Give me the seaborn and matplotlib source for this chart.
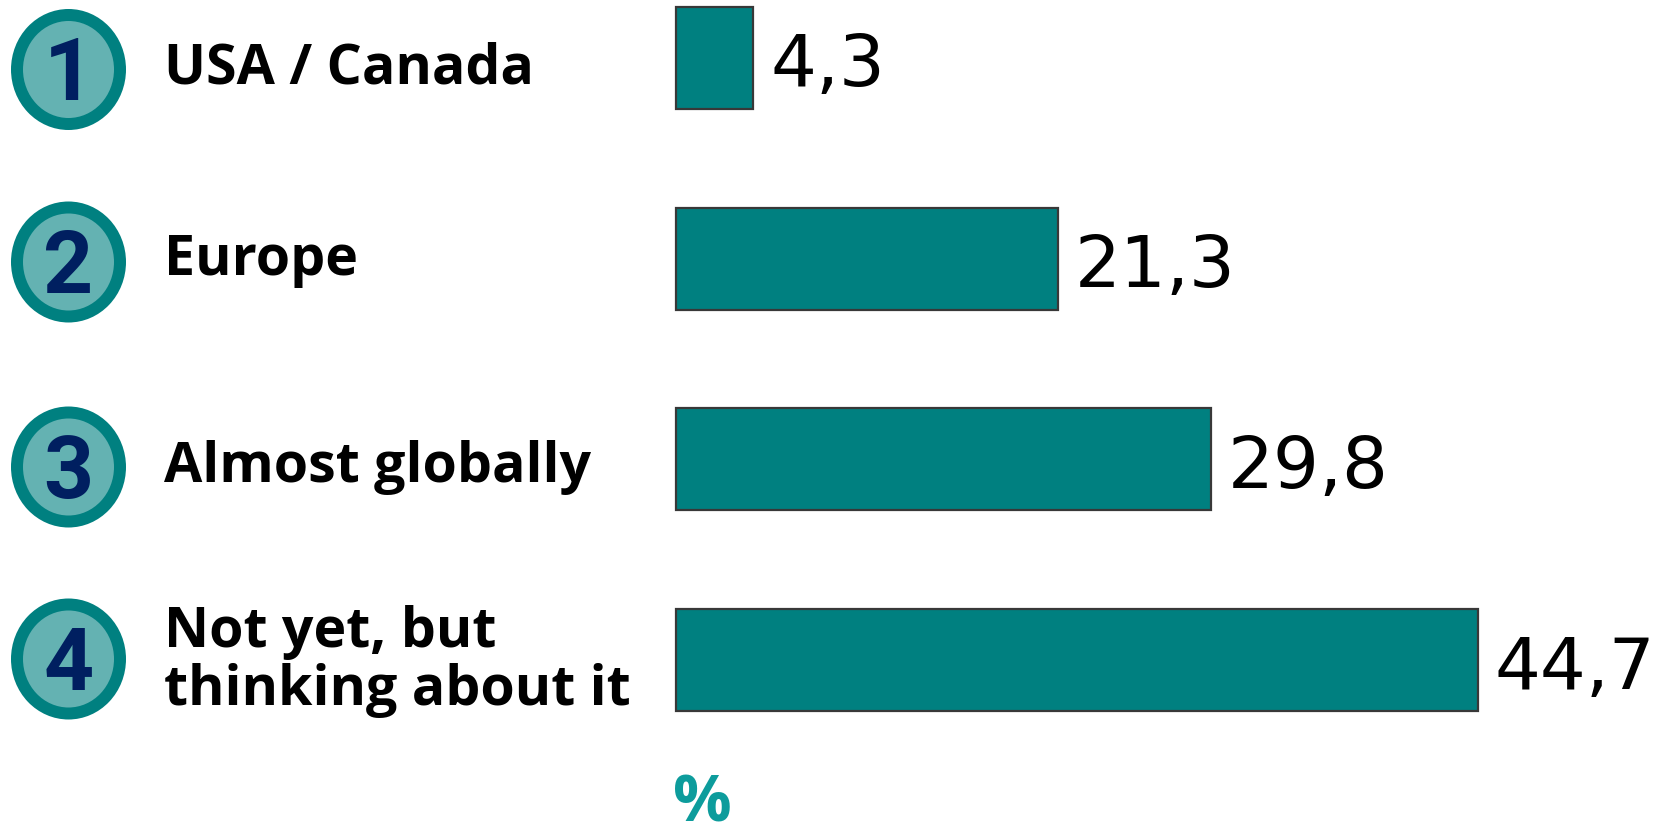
import matplotlib
matplotlib.use("Agg")
import matplotlib.pyplot as plt
from matplotlib.patches import Ellipse
import pandas as pd
import seaborn as sns

categories = ["USA / Canada", "Europe", "Almost globally", "Not yet, but\nthinking about it"]
shares = [4.3, 21.3, 29.8, 44.7]
badges = ["1", "2", "3", "4"]
unit_label = "%"

W, H = 1662, 825
TEAL = "#008080"
PALE_TEAL = "#64b2b2"
NAVY = "#001f60"
UNIT_TEAL = "#0d9c9c"

sns.set_theme(style="white")
fig = plt.figure(figsize=(W / 100, H / 100), dpi=100, facecolor="white")

# Bars fill the whole canvas; limits put zero and the row spacing where they belong
ax = fig.add_axes([0, 0, 1, 1])
df = pd.DataFrame({"category": categories, "share": shares})
sns.barplot(data=df, x="share", y="category", order=categories, orient="h",
            color=TEAL, saturation=1, width=0.508, edgecolor="#383838",
            linewidth=1.6, ax=ax)
px_per_unit = 17.94
px_per_row = 200.7
ax.set_xlim(-676 / px_per_unit, (W - 676) / px_per_unit)
ax.set_ylim((H - 58) / px_per_row, -58 / px_per_row)
ax.axis("off")

# Value labels sit just past the bar ends, with a decimal comma
for i, v in enumerate(shares):
    ax.annotate(str(v).replace(".", ","), xy=(v, i), xytext=(17, -28.5),
                textcoords="offset pixels", ha="left", va="baseline",
                fontsize=52, color="black", family="DejaVu Sans")

# Overlay in pixel units for the numbered badges and row captions
ov = fig.add_axes([0, 0, 1, 1], facecolor="none")
ov.set_xlim(0, W)
ov.set_ylim(H, 0)
ov.axis("off")

badge_y = [69.5, 262, 467, 659]
for label, y in zip(badges, badge_y):
    ov.add_patch(Ellipse((68.5, y), 115, 121, facecolor=TEAL, edgecolor="none"))
    ov.add_patch(Ellipse((68.5, y), 91, 97, facecolor=PALE_TEAL, edgecolor="none"))
    ov.text(68.5, y + 31, label, ha="center", va="baseline", fontsize=63,
            fontweight="bold", color=NAVY, family="Roboto")

caption_y = [83, 275, 482, 705]
for text, y in zip(categories, caption_y):
    ov.text(164, y, text, ha="left", va="baseline", fontsize=40, fontweight="bold",
            color="black", family="Open Sans", linespacing=1.07, multialignment="left")

ov.text(673, 821, unit_label, ha="left", va="baseline", fontsize=47,
        fontweight="bold", color=UNIT_TEAL, family="Open Sans")

fig.savefig("out.png", dpi=100)
